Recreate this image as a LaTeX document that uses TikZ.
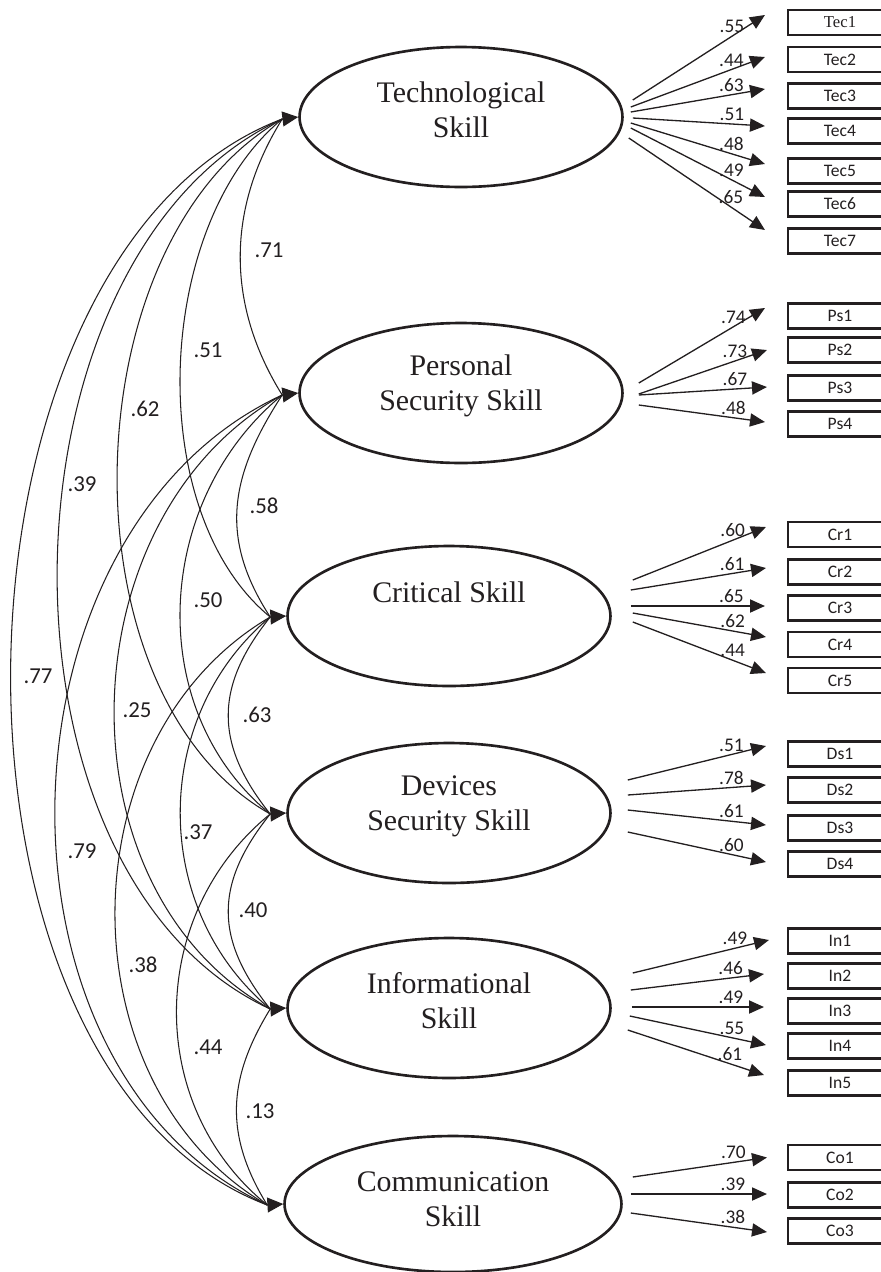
\documentclass[tikz,border=0pt]{standalone}
\usepackage{fontspec}
\setmainfont{Liberation Serif}
\setsansfont{Carlito}
\usetikzlibrary{arrows.meta,calc,shapes.geometric}
\definecolor{ink}{RGB}{35,31,32}

\begin{document}
\begin{tikzpicture}[x=0.02cm,y=-0.02cm,
  latent/.style={draw=ink,line width=1.5pt,ellipse,minimum width=6.46cm,minimum height=2.8cm,inner sep=0pt},
  lattext/.style={text=ink,align=center,font=\fontsize{17}{20}\selectfont},
  obs/.style={draw=ink,line width=1.2pt,minimum width=2.08cm,minimum height=0.5cm,inner sep=0pt,text=ink,font=\sffamily\fontsize{10}{11}\selectfont},
  load/.style={draw=ink,line width=0.75pt,-{Triangle[length=8.5pt,width=7.5pt]}},
  coef/.style={pos=.75,above,inner sep=1.5pt,text=ink,font=\sffamily\fontsize{11}{13}\selectfont},
  cov/.style={draw=ink,line width=0.6pt},
  covtip/.style={draw=ink,line width=0.6pt,-{Triangle[length=9pt,width=8.5pt]}},
  corr/.style={text=ink,font=\sffamily\fontsize{13}{15}\selectfont}]

\useasboundingbox (0,0) rectangle (880,1272);

% latent factors
\node (T) [latent] at (461,117) {};
\node (Ttxt) [lattext] at (461,110) {Technological\\Skill};
\node (P) [latent] at (461,393) {};
\node (Ptxt) [lattext] at (461,386) {Personal\\Security Skill};
\node (C) [latent] at (449,616) {};
\node (Ctxt) [lattext] at (449,592) {Critical Skill};
\node (D) [latent] at (449,813) {};
\node (Dtxt) [lattext] at (449,806) {Devices\\Security Skill};
\node (I) [latent] at (449,1008) {};
\node (Itxt) [lattext] at (449,1001) {Informational\\Skill};
\node (Co) [latent,minimum width=6.74cm,minimum height=2.72cm] at (453,1204) {};
\node (Cotxt) [lattext] at (453,1199) {Communication\\Skill};

% items
\node (Tec1) [obs,font=\rmfamily\fontsize{9.5}{11}\selectfont] at (840,22.5) {Tec1};
\node (Tec2) [obs] at (840,59.5) {Tec2};
\node (Tec3) [obs] at (840,96) {Tec3};
\node (Tec4) [obs] at (840,131) {Tec4};
\node (Tec5) [obs] at (840,171) {Tec5};
\node (Tec6) [obs] at (840,204) {Tec6};
\node (Tec7) [obs] at (840,241) {Tec7};
\node (Ps1) [obs] at (840,316) {Ps1};
\node (Ps2) [obs] at (840,350) {Ps2};
\node (Ps3) [obs] at (840,388) {Ps3};
\node (Ps4) [obs] at (840,424) {Ps4};
\node (Cr1) [obs] at (840,534.5) {Cr1};
\node (Cr2) [obs] at (840,572) {Cr2};
\node (Cr3) [obs] at (840,608) {Cr3};
\node (Cr4) [obs] at (840,644.5) {Cr4};
\node (Cr5) [obs] at (840,680.5) {Cr5};
\node (Ds1) [obs] at (840,754) {Ds1};
\node (Ds2) [obs] at (840,790) {Ds2};
\node (Ds3) [obs] at (840,828) {Ds3};
\node (Ds4) [obs] at (840,864) {Ds4};
\node (In1) [obs] at (840,941) {In1};
\node (In2) [obs] at (840,976) {In2};
\node (In3) [obs] at (840,1011) {In3};
\node (In4) [obs] at (840,1046) {In4};
\node (In5) [obs] at (840,1083) {In5};
\node (Co1) [obs] at (840,1157.5) {Co1};
\node (Co2) [obs] at (840,1195) {Co2};
\node (Co3) [obs] at (840,1231) {Co3};

% loadings
\draw[load] ($(T.east)+(9,-17)$) -- ($(Tec1.west)+(-22,-7.5)$) node[coef] {.55};
\draw[load] ($(T.east)+(7,-10)$) -- ($(Tec2.west)+(-22,-2.5)$) node[coef] {.44};
\draw[load] ($(T.east)+(7,-5)$) -- ($(Tec3.west)+(-22,-7)$) node[coef] {.63};
\draw[load] ($(T.east)+(9,1)$) -- ($(Tec4.west)+(-22,-5)$) node[coef] {.51};
\draw[load] ($(T.east)+(7,6)$) -- ($(Tec5.west)+(-22,-7)$) node[coef] {.48};
\draw[load] ($(T.east)+(7,11)$) -- ($(Tec6.west)+(-22,-7)$) node[coef] {.49};
\draw[load] ($(T.east)+(5,21)$) -- ($(Tec7.west)+(-22,-11)$) node[coef] {.65};
\draw[load] ($(P.east)+(15,-10)$) -- ($(Ps1.west)+(-22,-8)$) node[coef] {.74};
\draw[load] ($(P.east)+(15,1)$) -- ($(Ps2.west)+(-20,0)$) node[coef] {.73};
\draw[load] ($(P.east)+(15,2)$) -- ($(Ps3.west)+(-20,-1)$) node[coef] {.67};
\draw[load] ($(P.east)+(15,12)$) -- ($(Ps4.west)+(-22,-2)$) node[coef] {.48};
\draw[load] ($(C.east)+(21,-36)$) -- ($(Cr1.west)+(-21,-7.5)$) node[coef] {.60};
\draw[load] ($(C.east)+(19,-26)$) -- ($(Cr2.west)+(-21,-4)$) node[coef] {.61};
\draw[load] ($(C.east)+(19,-10)$) -- ($(Cr3.west)+(-22,-2)$) node[coef] {.65};
\draw[load] ($(C.east)+(21,-3)$) -- ($(Cr4.west)+(-21,-7.5)$) node[coef] {.62};
\draw[load] ($(C.east)+(21,6)$) -- ($(Cr5.west)+(-21,-7.5)$) node[coef] {.44};
\draw[load] ($(D.east)+(16,-33)$) -- ($(Ds1.west)+(-21,-8)$) node[coef] {.51};
\draw[load] ($(D.east)+(16,-18)$) -- ($(Ds2.west)+(-21,-5)$) node[coef] {.78};
\draw[load] ($(D.east)+(16,-3)$) -- ($(Ds3.west)+(-21,-3)$) node[coef] {.61};
\draw[load] ($(D.east)+(16,19)$) -- ($(Ds4.west)+(-21,-2)$) node[coef] {.60};
\draw[load] ($(I.east)+(21,-35)$) -- ($(In1.west)+(-18,-1)$) node[coef] {.49};
\draw[load] ($(I.east)+(19,-18)$) -- ($(In2.west)+(-23,-2)$) node[coef] {.46};
\draw[load] ($(I.east)+(20,-1)$) -- ($(In3.west)+(-23,-4)$) node[coef] {.49};
\draw[load] ($(I.east)+(18,8)$) -- ($(In4.west)+(-21,-1)$) node[coef] {.55};
\draw[load] ($(I.east)+(16,22)$) -- ($(In5.west)+(-23,-8)$) node[coef] {.61};
\draw[load] ($(Co.east)+(10,-27)$) -- ($(Co1.west)+(-20,0)$) node[coef] {.70};
\draw[load] ($(Co.east)+(8,-10)$) -- ($(Co2.west)+(-20,-1)$) node[coef] {.39};
\draw[load] ($(Co.east)+(8,9)$) -- ($(Co3.west)+(-20,1)$) node[coef] {.38};

% correlations
\coordinate (Tin) at ($(T.west)+(-16,2)$);
\coordinate (Pin) at ($(P.west)+(-16,2)$);
\coordinate (Cin) at ($(C.west)+(-16,1)$);
\coordinate (Din) at ($(D.west)+(-16,1)$);
\coordinate (Iin) at ($(I.west)+(-16,1)$);
\coordinate (Coin) at ($(Co.west)+(-16,1)$);
\draw[cov] (Tin) .. controls +(-56,90) and +(-56,-90) .. (Pin);
\draw[cov] (Tin) .. controls +(-128,105) and +(-128,-105) .. (Cin);
\draw[cov] (Tin) .. controls +(-212,120) and +(-212,-120) .. (Din);
\draw[cov] (Tin) .. controls +(-292,135) and +(-292,-135) .. (Iin);
\draw[cov] (Tin) .. controls +(-352,134) and +(-352,-134) .. (Coin);
\draw[cov] (Pin) .. controls +(-52,80) and +(-52,-80) .. (Cin);
\draw[cov] (Pin) .. controls +(-128,105) and +(-128,-105) .. (Din);
\draw[cov] (Pin) .. controls +(-216,120) and +(-216,-120) .. (Iin);
\draw[cov] (Pin) .. controls +(-293,135) and +(-293,-135) .. (Coin);
\draw[cov] (Cin) .. controls +(-56,70) and +(-56,-70) .. (Din);
\draw[cov] (Cin) .. controls +(-120,100) and +(-120,-100) .. (Iin);
\draw[cov] (Cin) .. controls +(-205,120) and +(-205,-120) .. (Coin);
\draw[cov] (Din) .. controls +(-56,70) and +(-56,-70) .. (Iin);
\draw[cov] (Din) .. controls +(-123,100) and +(-123,-100) .. (Coin);
\draw[cov] (Iin) .. controls +(-43,70) and +(-43,-70) .. (Coin);
\draw[covtip] (Tin) -- (T.west);
\draw[covtip] (Pin) -- (P.west);
\draw[covtip] (Cin) -- (C.west);
\draw[covtip] (Din) -- (D.west);
\draw[covtip] (Iin) -- (I.west);
\draw[covtip] (Coin) -- (Co.west);

\node (rTP) [corr] at (269,250) {.71};
\node (rTC) [corr] at (208,350) {.51};
\node (rTD) [corr] at (145,409) {.62};
\node (rTI) [corr] at (82,484) {.39};
\node (rTCo) [corr] at (38,676) {.77};
\node (rPC) [corr] at (264,506) {.58};
\node (rPD) [corr] at (208,600) {.50};
\node (rPI) [corr] at (137,710) {.25};
\node (rPCo) [corr] at (82,851) {.79};
\node (rCD) [corr] at (257,715) {.63};
\node (rCI) [corr] at (198,832) {.37};
\node (rCCo) [corr] at (143,965) {.38};
\node (rDI) [corr] at (253,910) {.40};
\node (rDCo) [corr] at (208,1047) {.44};
\node (rICo) [corr] at (260,1111) {.13};
\end{tikzpicture}
\end{document}
